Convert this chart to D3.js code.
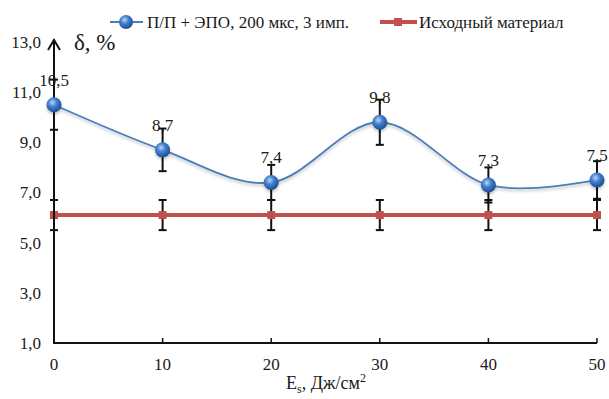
<!DOCTYPE html>
<html>
<head>
<meta charset="utf-8">
<script src="https://cdn.jsdelivr.net/npm/d3@7"></script>
<style>
  body { margin: 0; background: #fff; }
</style>
</head>
<body>
<div id="chart"></div>
<script>
// data
var energies = [0, 10, 20, 30, 40, 50];
var treated = [10.5, 8.7, 7.4, 9.8, 7.3, 7.5];
var treatedErr = [1.0, 0.85, 0.7, 0.9, 0.7, 0.75];
var treatedLabels = ["10,5", "8,7", "7,4", "9,8", "7,3", "7,5"];
var initial = [6.1, 6.1, 6.1, 6.1, 6.1, 6.1];
var initialErr = [0.6, 0.6, 0.6, 0.6, 0.6, 0.6];
var yTicks = [1, 3, 5, 7, 9, 11, 13];
var xTicks = [0, 10, 20, 30, 40, 50];
var seriesNames = ["П/П + ЭПО, 200 мкс, 3 имп.", "Исходный материал"];

var width = 609, height = 399;
var serif = "'Liberation Serif', 'Times New Roman', Times, 'DejaVu Serif', serif";

var svg = d3.select("#chart").append("svg")
	.attr("width", width)
	.attr("height", height)
	.attr("font-family", serif)
	.style("font-family", serif);

var x = d3.scaleLinear().domain([0, 50]).range([54, 597]);
var y = d3.scaleLinear().domain([1, 13]).range([343, 42]);

var fmt = function(d) { return d3.format(".1f")(d).replace(".", ","); };

var defs = svg.append("defs");
var grad = defs.append("radialGradient")
	.attr("id", "ball")
	.attr("cx", "40%").attr("cy", "35%").attr("r", "65%");
grad.append("stop").attr("offset", "0%").attr("stop-color", "#b9d4f4");
grad.append("stop").attr("offset", "45%").attr("stop-color", "#3f7fcf");
grad.append("stop").attr("offset", "100%").attr("stop-color", "#1d4f8f");

var shadow = defs.append("filter").attr("id", "shadow")
	.attr("x", "-20%").attr("y", "-20%").attr("width", "140%").attr("height", "160%");
shadow.append("feDropShadow")
	.attr("dx", 0).attr("dy", 2).attr("stdDeviation", 1.5)
	.attr("flood-color", "#000").attr("flood-opacity", 0.25);

// y tick labels
svg.append("g").selectAll("text")
	.data(yTicks)
	.enter().append("text")
	.attr("x", 41)
	.attr("y", function(d) { return y(d); })
	.attr("dy", ".35em")
	.attr("text-anchor", "end")
	.style("font-size", "17px")
	.style("fill", "#1a1a1a")
	.text(fmt);

// x axis
svg.append("line")
	.attr("x1", x(0)).attr("x2", x(50))
	.attr("y1", y(1)).attr("y2", y(1))
	.attr("stroke", "#111").attr("stroke-width", 2);

svg.append("g").selectAll("line")
	.data(xTicks.slice(1))
	.enter().append("line")
	.attr("x1", function(d) { return x(d); })
	.attr("x2", function(d) { return x(d); })
	.attr("y1", y(1)).attr("y2", y(1) - 5)
	.attr("stroke", "#111").attr("stroke-width", 1.5);

svg.append("g").selectAll("text")
	.data(xTicks)
	.enter().append("text")
	.attr("x", function(d) { return x(d); })
	.attr("y", y(1) + 21)
	.attr("dy", ".35em")
	.attr("text-anchor", "middle")
	.style("font-size", "17px")
	.style("fill", "#1a1a1a")
	.text(function(d) { return d; });

// x title
var xt = svg.append("text")
	.attr("x", 326)
	.attr("y", 389)
	.attr("text-anchor", "middle")
	.style("font-size", "18px")
	.style("fill", "#1a1a1a");
xt.append("tspan").text("E");
xt.append("tspan").attr("dy", 4).style("font-size", "12px").text("s");
xt.append("tspan").attr("dy", -4).text(", Дж/см");
xt.append("tspan").attr("dy", -7).style("font-size", "12px").text("2");

// red series
svg.append("path")
	.datum(energies)
	.attr("fill", "none")
	.attr("stroke", "#c0504d")
	.attr("stroke-width", 4)
	.attr("d", d3.line()
		.x(function(d) { return x(d); })
		.y(function(d, i) { return y(initial[i]); }));

function errorBars(vals, errs) {
	var g = svg.append("g").attr("stroke", "#111").attr("stroke-width", 2);
	energies.forEach(function(e, i) {
		var cx = x(e), top = y(vals[i] + errs[i]), bot = y(vals[i] - errs[i]);
		g.append("line").attr("x1", cx).attr("x2", cx).attr("y1", top).attr("y2", bot);
		g.append("line").attr("x1", cx - 4).attr("x2", cx + 4).attr("y1", top).attr("y2", top);
		g.append("line").attr("x1", cx - 4).attr("x2", cx + 4).attr("y1", bot).attr("y2", bot);
	});
}

errorBars(initial, initialErr);

svg.append("g").selectAll("rect")
	.data(energies)
	.enter().append("rect")
	.attr("x", function(d) { return x(d) - 4; })
	.attr("y", function(d, i) { return y(initial[i]) - 4; })
	.attr("width", 8).attr("height", 8)
	.attr("fill", "#c0504d");

// blue series
svg.append("path")
	.datum(energies)
	.attr("fill", "none")
	.attr("stroke", "#4a7ebb")
	.attr("stroke-width", 1.8)
	.attr("filter", "url(#shadow)")
	.attr("d", d3.line()
		.curve(d3.curveCardinal.tension(0))
		.x(function(d) { return x(d); })
		.y(function(d, i) { return y(treated[i]); }));

errorBars(treated, treatedErr);

// y axis with arrow
svg.append("line")
	.attr("x1", x(0)).attr("x2", x(0))
	.attr("y1", y(1) + 1).attr("y2", 40)
	.attr("stroke", "#111").attr("stroke-width", 2);
svg.append("path")
	.attr("d", "M" + (x(0) - 6) + "," + 50 + "L" + x(0) + ",40L" + (x(0) + 6) + "," + 50)
	.attr("fill", "none").attr("stroke", "#111").attr("stroke-width", 2);

svg.append("g").selectAll("circle")
	.data(energies)
	.enter().append("circle")
	.attr("cx", function(d) { return x(d); })
	.attr("cy", function(d, i) { return y(treated[i]); })
	.attr("r", 7.5)
	.attr("fill", "url(#ball)")
	.attr("filter", "url(#shadow)");

svg.append("g").selectAll("text")
	.data(energies)
	.enter().append("text")
	.attr("x", function(d) { return x(d); })
	.attr("y", function(d, i) { return y(treated[i]) - 25; })
	.attr("dy", ".35em")
	.attr("text-anchor", "middle")
	.style("font-size", "17px")
	.style("fill", "#1a1a1a")
	.text(function(d, i) { return treatedLabels[i]; });

// y title
svg.append("text")
	.attr("x", 74)
	.attr("y", 50)
	.style("font-size", "23px")
	.style("fill", "#1a1a1a")
	.text("δ, %");

// legend
var lg = svg.append("g");
lg.append("line")
	.attr("x1", 110).attr("x2", 143).attr("y1", 22).attr("y2", 22)
	.attr("stroke", "#4a7ebb").attr("stroke-width", 2);
lg.append("circle")
	.attr("cx", 126).attr("cy", 22).attr("r", 7)
	.attr("fill", "url(#ball)");
lg.append("text")
	.attr("x", 147).attr("y", 22).attr("dy", ".35em")
	.style("font-size", "17px")
	.style("fill", "#1a1a1a")
	.text(seriesNames[0]);
lg.append("line")
	.attr("x1", 380).attr("x2", 417).attr("y1", 22).attr("y2", 22)
	.attr("stroke", "#c0504d").attr("stroke-width", 4);
lg.append("rect")
	.attr("x", 394).attr("y", 18).attr("width", 8).attr("height", 8)
	.attr("fill", "#c0504d");
lg.append("text")
	.attr("x", 419).attr("y", 22).attr("dy", ".35em")
	.style("font-size", "17px")
	.style("fill", "#1a1a1a")
	.text(seriesNames[1]);
</script>
</body>
</html>
